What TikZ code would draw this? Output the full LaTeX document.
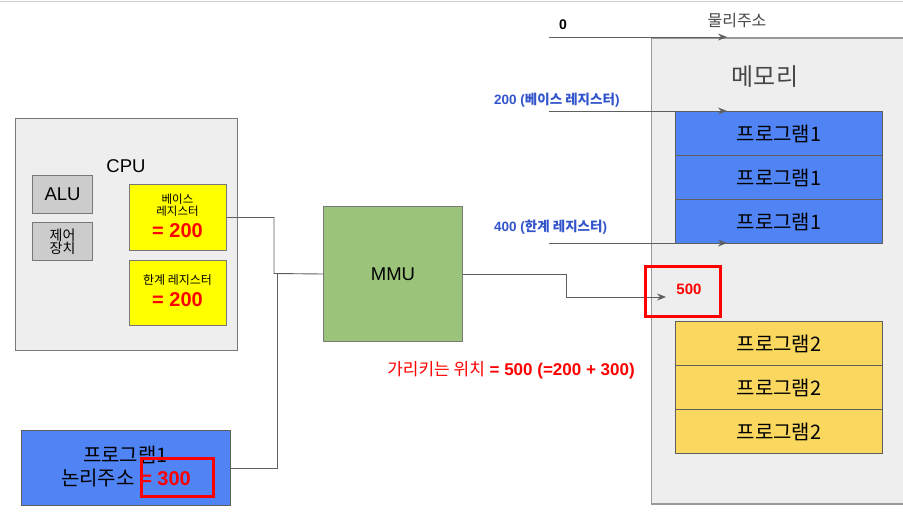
\documentclass[tikz,border=0pt]{standalone}
\usepackage{fontspec}
\setmainfont{Liberation Sans}
\newfontfamily\kr{Noto Sans CJK KR}
\usetikzlibrary{arrows.meta}
\definecolor{lgray}{RGB}{238,238,238}
\definecolor{mgray}{RGB}{204,204,204}
\definecolor{edgegray}{RGB}{120,120,120}
\definecolor{linegray}{RGB}{95,95,95}
\definecolor{progblue}{RGB}{80,132,245}
\definecolor{progyel}{RGB}{250,215,95}
\definecolor{mmugreen}{RGB}{155,196,122}
\definecolor{regyel}{RGB}{255,255,0}
\definecolor{txtblue}{RGB}{51,85,204}
\definecolor{hired}{RGB}{255,0,0}
\definecolor{darktxt}{RGB}{70,70,70}
\tikzset{
  box/.style={draw=edgegray, line width=1pt, anchor=north west, inner sep=0pt, align=center},
  progbox/.style={box, fill=progblue, draw=linegray, minimum width=207pt, minimum height=44pt, font=\kr\fontsize{20}{22}\selectfont},
  prog2box/.style={progbox, fill=progyel},
  regbox/.style={box, fill=regyel, minimum width=97pt},
  graybox/.style={box, fill=mgray, minimum width=60pt, minimum height=38pt},
  conn/.style={draw=linegray, line width=0.9pt},
  arr/.style={conn, -{Stealth[length=9pt,width=7pt,inset=3pt]}},
  redframe/.style={draw=hired, line width=2.6pt, anchor=north west, inner sep=0pt},
  bignum/.style={text=hired, font=\bfseries\fontsize{20}{22}\selectfont},
  addrlbl/.style={font=\bfseries\fontsize{13.5}{15}\selectfont, text=txtblue, anchor=west, inner sep=0pt},
}
\begin{document}
\begin{tikzpicture}[x=1pt,y=-1pt]
\useasboundingbox (0,0) rectangle (903,530);
\fill[white] (0,0) rectangle (903,530);
\draw[mgray, line width=1.5pt] (0,1.5) -- (903,1.5);

% CPU
\node[box, fill=lgray, minimum width=222pt, minimum height=232pt] (cpu) at (15,118) {};
\node[font=\fontsize{18.5}{20}\selectfont] (cpulbl) at (126,166) {CPU};
\node[graybox, font=\fontsize{18.5}{20}\selectfont] (alu) at (32,175) {ALU};
\node[graybox, font=\kr\fontsize{14}{16}\selectfont] (ctrl) at (32,222) {제어\\[-3pt]장치};
\node[regbox, minimum height=66pt] (base) at (129,184) {};
\node[font=\kr\fontsize{11.5}{13}\selectfont, align=center] (baselbl) at (177.5,205) {베이스\\[-1pt]레지스터};
\node[bignum] (baseval) at (177.5,231) {= 200};
\node[regbox, minimum height=65pt] (limit) at (129,260) {};
\node[font=\kr\fontsize{12}{14}\selectfont] (limitlbl) at (177.5,280) {한계 레지스터};
\node[bignum] (limitval) at (177.5,300) {= 200};

% MMU
\node[box, fill=mmugreen, minimum width=139pt, minimum height=135pt, font=\fontsize{18.5}{20}\selectfont] (mmu) at (323,206) {MMU};

% Logical address program
\node[box, fill=progblue, draw=linegray, minimum width=209pt, minimum height=75pt] (prog) at (21,430) {};
\node[font=\kr\fontsize{20}{22}\selectfont] (progl1) at (125.5,455) {프로그램1};
\node[font=\fontsize{20}{22}\selectfont] (progl2) at (126,478) {{\kr 논리주소} \textcolor{hired}{\bfseries = 300}};
\node[redframe, minimum width=72pt, minimum height=38pt] (progred) at (140,457) {};

% Connectors CPU/program -> MMU
\coordinate (j1) at (274,273.5);
\coordinate (j2) at (277,273.5);
\draw[conn] (base.east) -| (j1) -- (mmu.west);
\draw[conn] (prog.east) -| (j2);

% Memory
\node[box, fill=lgray, draw=gray!80, line width=1.5pt, minimum width=252pt, minimum height=466pt] (mem) at (650.5,37) {};
\node[font=\kr\fontsize{24}{26}\selectfont, text=darktxt] (memlbl) at (765,77) {메모리};
\node[progbox] (p1a) at (675,111) {프로그램1};
\node[progbox] (p1b) at (675,155) {프로그램1};
\node[progbox] (p1c) at (675,199) {프로그램1};
\node[prog2box] (p2a) at (675,321) {프로그램2};
\node[prog2box] (p2b) at (675,365) {프로그램2};
\node[prog2box] (p2c) at (675,409) {프로그램2};

% address labels and arrows
\node[font=\bfseries\fontsize{14}{16}\selectfont] (zero) at (563,25) {0};
\node[font=\kr\fontsize{16}{18}\selectfont, text=darktxt] (phys) at (737,21) {물리주소};
\node[addrlbl] (b200) at (494,100) {200 ({\kr\bfseries 베이스 레지스터})};
\node[addrlbl] (l400) at (494,227) {400 ({\kr\bfseries 한계 레지스터})};
\coordinate (s0) at (549,37);   \coordinate (e0) at (727,37);
\coordinate (s1) at (549,111);  \coordinate (e1) at (727,111);
\coordinate (s2) at (549,243);  \coordinate (e2) at (727,243);
\draw[arr] (s0) -- (e0);
\draw[arr] (s1) -- (e1);
\draw[arr] (s2) -- (e2);

% MMU -> 500
\coordinate (tgt) at (666,297);
\draw[arr] (mmu.east) -- ++(103,0) |- (tgt);
\node[redframe, minimum width=75pt, minimum height=50pt] (r500) at (644,265) {};
\node[text=hired, font=\bfseries\fontsize{15}{17}\selectfont] (v500) at (689,289) {500};

\node[text=hired, font=\fontsize{17}{19}\selectfont] (note) at (511,370) {{\kr 가리키는 위치} \bfseries = 500 (=200 + 300)};
\end{tikzpicture}
\end{document}
